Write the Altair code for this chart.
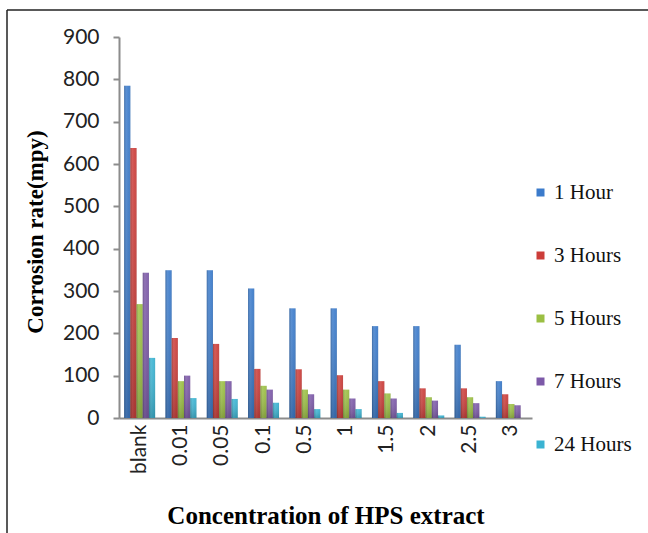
import altair as alt
import pandas as pd

# Corrosion rate (mpy) by extract concentration and immersion time
concentrations = ["blank", "0.01", "0.05", "0.1", "0.5", "1", "1.5", "2", "2.5", "3"]
series = ["1 Hour", "3 Hours", "5 Hours", "7 Hours", "24 Hours"]

hour_1 = [785, 349, 349, 306, 259, 259, 217, 217, 173, 87]
hours_3 = [638, 189, 175, 116, 115, 101, 87, 70, 70, 56]
hours_5 = [269, 87, 87, 76, 67, 67, 58, 49, 49, 33]
hours_7 = [343, 100, 87, 67, 56, 46, 46, 41, 35, 30]
hours_24 = [142, 47, 45, 36, 21, 21, 12, 6, 3, 0]

colors = ["#3b7bcb", "#cc3d39", "#9bbf43", "#7c59a8", "#3ab3d2"]

rows = []
for name, vals in zip(series, [hour_1, hours_3, hours_5, hours_7, hours_24]):
    for c, v in zip(concentrations, vals):
        rows.append({"conc": c, "series": name, "rate": v})
df = pd.DataFrame(rows)

W, H = 413, 381

x_enc = alt.X(
    "conc:N",
    sort=concentrations,
    scale=alt.Scale(paddingInner=0.25, paddingOuter=0.125),
    axis=alt.Axis(
        title="Concentration of HPS extract",
        labelAngle=-90,
        labelFont="Lato",
        labelFontSize=21,
        labelColor="#222222",
        labelPadding=6,
        ticks=False,
        domainColor="#8c8c8c",
        domainWidth=2,
        titleFont="Liberation Serif",
        titleFontSize=25,
        titleFontWeight="bold",
        titleColor="#000000",
        titleY=97,
        titleBaseline="middle",
    ),
)
xoff = alt.XOffset("series:N", sort=series, scale=alt.Scale(domain=series, paddingInner=0, paddingOuter=0))
y_enc = alt.Y(
    "rate:Q",
    scale=alt.Scale(domain=[0, 900], nice=False),
    axis=alt.Axis(
        title="Corrosion rate(mpy)",
        values=list(range(0, 1000, 100)),
        grid=False,
        labelFont="Lato",
        labelFontSize=21,
        labelColor="#222222",
        labelPadding=14,
        tickSize=6,
        tickColor="#8c8c8c",
        tickWidth=2,
        domainColor="#8c8c8c",
        domainWidth=2,
        titleFont="Liberation Serif",
        titleFontSize=23,
        titleFontWeight="bold",
        titleColor="#000000",
        titleX=-84,
        titleY=H / 2 + 4,
        titleAlign="center",
        titleBaseline="middle",
    ),
)

base = alt.Chart(df)

bars = base.mark_bar(strokeWidth=0).encode(
    x=x_enc,
    xOffset=xoff,
    y=y_enc,
    color=alt.Color(
        "series:N",
        sort=series,
        scale=alt.Scale(domain=series, range=colors),
        legend=alt.Legend(
            title=None,
            orient="none",
            legendX=411,
            legendY=145,
            symbolType="square",
            symbolSize=64,
            symbolStrokeWidth=0,
            labelFont="Liberation Serif",
            labelFontSize=21,
            labelColor="#111111",
            labelOffset=3,
            rowPadding=41,
        ),
    ),
)

# shading overlay giving each bar a darker left edge and base
shade_h = base.mark_bar(
    strokeWidth=0,
    fill=alt.Gradient(
        gradient="linear",
        x1=0, x2=1, y1=0, y2=0,
        stops=[
            alt.GradientStop(offset=0, color="rgba(0,0,0,0.22)"),
            alt.GradientStop(offset=0.35, color="rgba(255,255,255,0.10)"),
            alt.GradientStop(offset=0.75, color="rgba(255,255,255,0.02)"),
            alt.GradientStop(offset=1, color="rgba(0,0,0,0.10)"),
        ],
    ),
).encode(x=x_enc, xOffset=xoff, y=y_enc)

shade_v = base.mark_bar(
    strokeWidth=0,
    fill=alt.Gradient(
        gradient="linear",
        x1=0, x2=0, y1=0, y2=1,
        stops=[
            alt.GradientStop(offset=0, color="rgba(255,255,255,0.06)"),
            alt.GradientStop(offset=1, color="rgba(0,0,0,0.18)"),
        ],
    ),
).encode(x=x_enc, xOffset=xoff, y=y_enc)

# outer frame lines (top and left)
frame_left = alt.Chart(pd.DataFrame({"k": [0]})).mark_rule(color="#222222", strokeWidth=1.5).encode(
    x=alt.value(-112), y=alt.value(-27), y2=alt.value(H + 130)
)
frame_top = alt.Chart(pd.DataFrame({"k": [0]})).mark_rule(color="#222222", strokeWidth=1.5).encode(
    x=alt.value(-112), x2=alt.value(W + 130), y=alt.value(-27)
)

chart = (
    alt.layer(bars, shade_h, shade_v, frame_left, frame_top)
    .properties(
        width=W,
        height=H,
        autosize=alt.AutoSizeParams(type="none"),
        padding={"left": 119, "top": 37, "right": 116, "bottom": 115},
        background="white",
    )
    .configure_view(stroke=None)
)

chart.save("out.html", embed_options={"renderer": "svg", "actions": False})
